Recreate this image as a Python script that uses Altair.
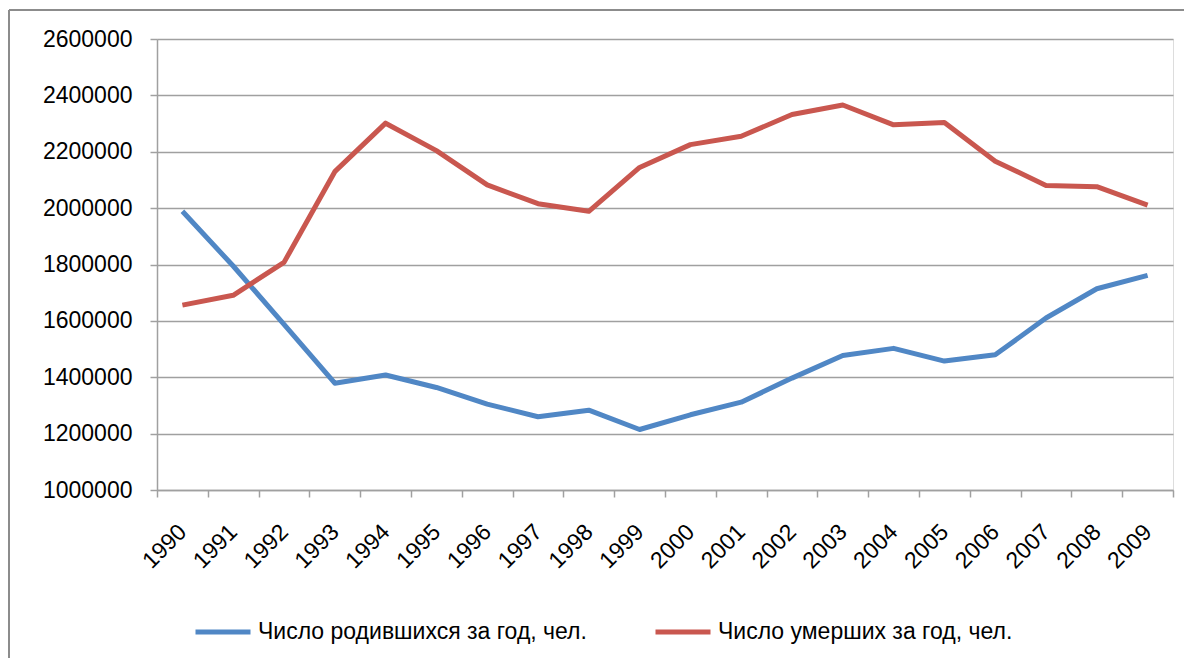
import altair as alt
import pandas as pd

years = [str(y) for y in range(1990, 2010)]
births = [1988858, 1794626, 1587644, 1378983, 1408159, 1363806, 1304638, 1259943,
          1283292, 1214689, 1266800, 1311604, 1396967, 1477301, 1502477, 1457376,
          1479637, 1610122, 1713947, 1761687]
deaths = [1655993, 1690657, 1807441, 2129339, 2301366, 2203811, 2082249, 2015779,
          1988744, 2144316, 2225332, 2254856, 2332272, 2365826, 2295402, 2303935,
          2166703, 2080445, 2075954, 2010543]
series_names = ["Число родившихся за год, чел.", "Число умерших за год, чел."]
series_colors = ["#5087C5", "#C9574F"]
y_ticks = [1000000, 1200000, 1400000, 1600000, 1800000, 2000000, 2200000, 2400000, 2600000]

rows = []
for i, yr in enumerate(years):
    rows.append({"year": yr, "value": births[i], "series": series_names[0]})
    rows.append({"year": yr, "value": deaths[i], "series": series_names[1]})
df = pd.DataFrame(rows)

FONT = "Liberation Sans"
GRID = "#a0a0a0"

lines = alt.Chart(df).mark_line(strokeWidth=5, strokeJoin="round").encode(
    x=alt.X("year:O",
            scale=alt.Scale(type="band", paddingInner=0, paddingOuter=0),
            axis=alt.Axis(title=None, tickBand="extent", labelAngle=315,
                          labelAlign="right", labelBaseline="middle",
                          labelPadding=31, tickSize=7, tickColor=GRID,
                          tickWidth=1.5, domainColor=GRID, domainWidth=1.5,
                          grid=False, labelFont=FONT, labelFontSize=23,
                          labelColor="#000000")),
    y=alt.Y("value:Q",
            scale=alt.Scale(domain=[1000000, 2600000], nice=False, zero=False),
            axis=alt.Axis(title=None, values=y_ticks, format="d",
                          grid=True, gridColor=GRID, gridWidth=1.5,
                          tickSize=7, tickColor=GRID, tickWidth=1.5,
                          domainColor=GRID, domainWidth=1.5, labelPadding=18,
                          labelFont=FONT, labelFontSize=23, labelColor="#000000")),
    color=alt.Color("series:N",
                    scale=alt.Scale(domain=series_names, range=series_colors),
                    sort=series_names,
                    legend=alt.Legend(title=None, orient="none", direction="horizontal",
                                      legendX=36, legendY=563,
                                      symbolType="stroke", symbolSize=3025,
                                      symbolStrokeWidth=5, labelOffset=5,
                                      columnPadding=58, labelFont=FONT,
                                      labelFontSize=23, labelColor="#000000",
                                      labelLimit=500)),
)

frame_left = alt.Chart(df).mark_rule(color="#8c8c8c", strokeWidth=1.5).encode(
    x=alt.value(-148), y=alt.value(-29), y2=alt.value(700))
frame_top = alt.Chart(df).mark_rule(color="#8c8c8c", strokeWidth=1.5).encode(
    x=alt.value(-148), x2=alt.value(1100), y=alt.value(-29))

chart = alt.layer(frame_left, frame_top, lines).properties(
    width=1016, height=451,
    autosize=alt.AutoSizeParams(type="none"),
    padding={"left": 149, "top": 31, "right": 11, "bottom": 168},
).configure_view(stroke=None).configure(background="white")

chart.save("out.html", embed_options={"renderer": "svg", "actions": False})
